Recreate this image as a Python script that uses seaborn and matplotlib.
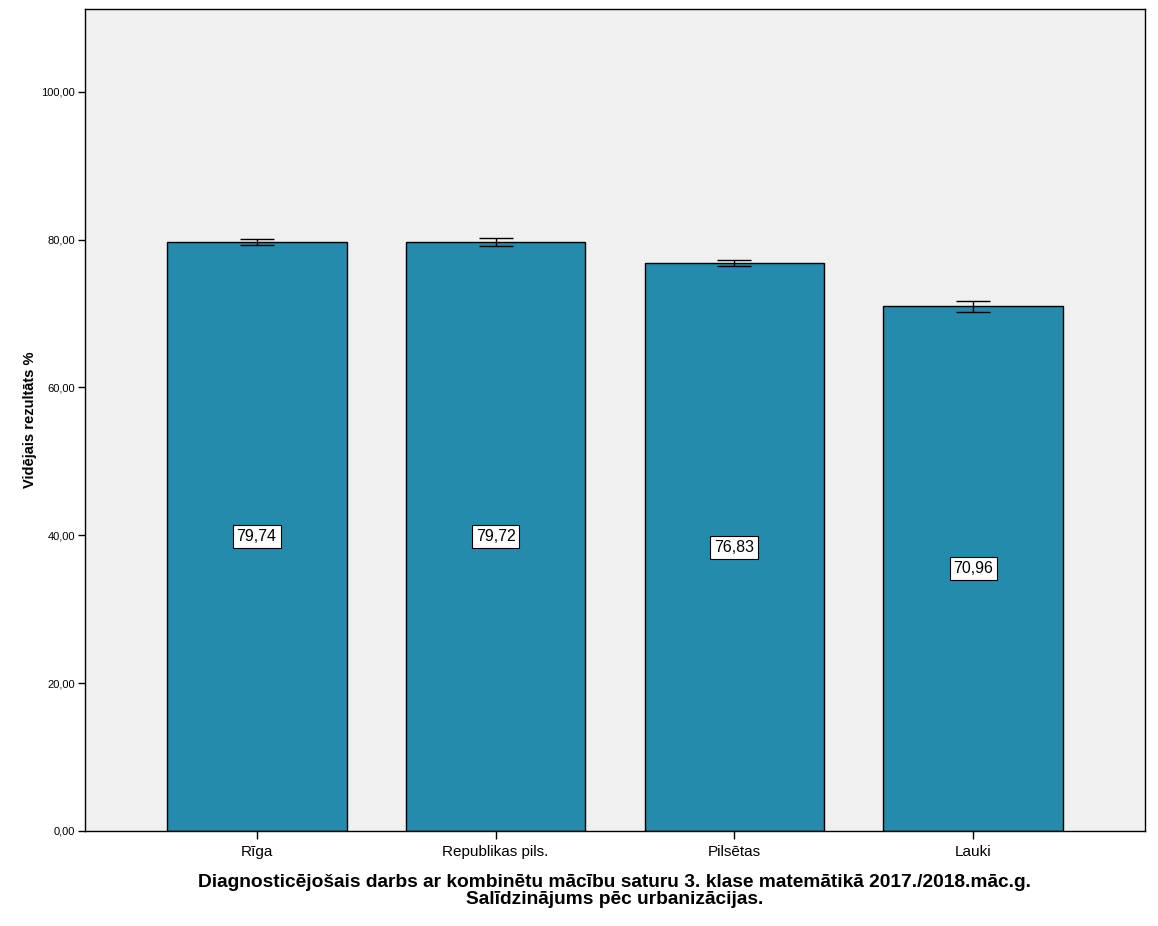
import matplotlib
matplotlib.use("Agg")
import matplotlib.pyplot as plt
import seaborn as sns
import pandas as pd

categories = ["Rīga", "Republikas pils.", "Pilsētas", "Lauki"]
values = [79.74, 79.72, 76.83, 70.96]
errors = [0.40, 0.55, 0.45, 0.70]
value_labels = ["79,74", "79,72", "76,83", "70,96"]
yticks = [0, 20, 40, 60, 80, 100]
ytick_labels = ["0,00", "20,00", "40,00", "60,00", "80,00", "100,00"]

sns.set_style("white")
plt.rcParams['font.family'] = ['Liberation Sans', 'DejaVu Sans']
plt.rcParams['text.color'] = 'black'
plt.rcParams['axes.labelcolor'] = 'black'
plt.rcParams['xtick.color'] = 'black'
plt.rcParams['ytick.color'] = 'black'

df = pd.DataFrame({"cat": categories, "val": values})

fig = plt.figure(figsize=(11.58, 9.26), dpi=100)
ax = fig.add_axes([85/1158, 1 - 831/926, 1060/1158, 822/926])
ax.set_facecolor("#F0F0F0")

sns.barplot(data=df, x="cat", y="val", color="#248BAD", saturation=1,
            width=0.753, edgecolor="black", linewidth=1, errorbar=None, ax=ax)
ax.errorbar(range(len(categories)), values, yerr=errors, fmt="none",
            ecolor="black", elinewidth=1, capsize=12, capthick=1, zorder=5)

for i, (v, lab) in enumerate(zip(values, value_labels)):
    ax.text(i, v / 2, lab, ha="center", va="center", fontsize=11.5, color="black",
            bbox=dict(boxstyle="square,pad=0.25", facecolor="white", edgecolor="black", linewidth=0.8),
            zorder=6)

ax.set_xlim(-0.718, 3.718)
ax.set_ylim(0, 111.2)
ax.set_yticks(yticks)
ax.set_yticklabels(ytick_labels, fontsize=8)
ax.tick_params(axis="x", labelsize=11, length=6, width=1, direction="out", bottom=True, pad=4)
ax.tick_params(axis="y", length=5, width=1, direction="out", left=True, pad=2)
for s in ax.spines.values():
    s.set_color("black")
    s.set_linewidth(1)

ax.set_xlabel("Diagnosticējošais darbs ar kombinētu mācību saturu 3. klase matemātikā 2017./2018.māc.g.\nSalīdzinājums pēc urbanizācijas.",
              fontsize=13.8, fontweight="bold", labelpad=11, linespacing=0.95)
ax.set_ylabel("Vidējais rezultāts %", fontsize=10.5, fontweight="bold", labelpad=3)

fig.savefig("out.png", dpi=100, facecolor="white")
